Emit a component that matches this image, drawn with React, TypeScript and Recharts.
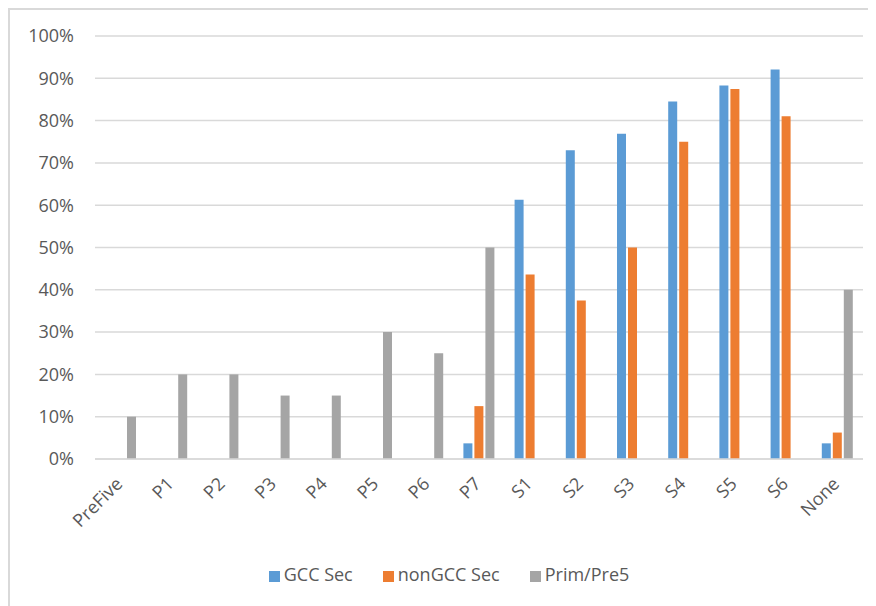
import { BarChart, Bar, XAxis, YAxis, CartesianGrid, Legend } from 'recharts';

const categories = ['PreFive', 'P1', 'P2', 'P3', 'P4', 'P5', 'P6', 'P7', 'S1', 'S2', 'S3', 'S4', 'S5', 'S6', 'None'];
const gccSec = [null, null, null, null, null, null, null, 0.037, 0.613, 0.73, 0.769, 0.845, 0.883, 0.921, 0.037];
const nonGccSec = [null, null, null, null, null, null, null, 0.125, 0.436, 0.375, 0.5, 0.75, 0.875, 0.81, 0.0625];
const primPre5 = [0.1, 0.2, 0.2, 0.15, 0.15, 0.3, 0.25, 0.5, null, null, null, null, null, null, 0.4];
const yTicks = [0, 0.1, 0.2, 0.3, 0.4, 0.5, 0.6, 0.7, 0.8, 0.9, 1];

const data = categories.map((name, i) => ({
  name,
  gcc: gccSec[i],
  nonGcc: nonGccSec[i],
  prim: primPre5[i],
}));

const FONT = '"Open Sans", sans-serif';
const TEXT = '#595959';
const GRID = '#D9D9D9';

// rotated category labels, like Excel's -45deg
const AngledTick = (props: any) => {
  const { x, y, payload } = props;
  return (
    <text
      x={x + 3}
      y={y + 18}
      transform={`rotate(-45, ${x + 3}, ${y + 18})`}
      textAnchor="end"
      fill={TEXT}
      fontSize={18}
      fontFamily={FONT}
    >
      {payload.value}
    </text>
  );
};

const App = () => {
  return (
    <div
      style={{
        width: 868,
        height: 598,
        borderTop: `2px solid ${GRID}`,
        borderLeft: `2px solid ${GRID}`,
        boxSizing: 'border-box',
        position: 'relative',
        background: '#fff',
      }}
    >
      <BarChart
        width={866}
        height={596}
        data={data}
        margin={{ top: 26, right: 13, left: 0, bottom: 22 }}
        barSize={9}
        barGap={2}
      >
        <CartesianGrid vertical={false} stroke={GRID} strokeWidth={1.5} />
        <XAxis
          dataKey="name"
          axisLine={{ stroke: GRID, strokeWidth: 1.5 }}
          tickLine={false}
          interval={0}
          height={103}
          tick={<AngledTick />}
        />
        <YAxis
          domain={[0, 1]}
          ticks={yTicks}
          width={85}
          axisLine={false}
          tickLine={false}
          tickSize={0}
          tickMargin={21}
          tickFormatter={(v) => `${Math.round(v * 100)}%`}
          tick={{ fill: TEXT, fontSize: 18, fontFamily: FONT }}
        />
        <Legend
          verticalAlign="bottom"
          height={22}
          iconType="square"
          iconSize={11}
          itemSorter="dataKey"
          wrapperStyle={{ left: 20, width: 868, fontFamily: FONT, fontSize: 18 }}
          formatter={(value) => <span style={{ color: TEXT, marginRight: 20 }}>{value}</span>}
        />
        <Bar dataKey="gcc" name="GCC Sec" fill="#5B9BD5" isAnimationActive={false} />
        <Bar dataKey="nonGcc" name="nonGCC Sec" fill="#ED7D31" isAnimationActive={false} />
        <Bar dataKey="prim" name="Prim/Pre5" fill="#A5A5A5" isAnimationActive={false} />
      </BarChart>
    </div>
  );
};

export default App;
